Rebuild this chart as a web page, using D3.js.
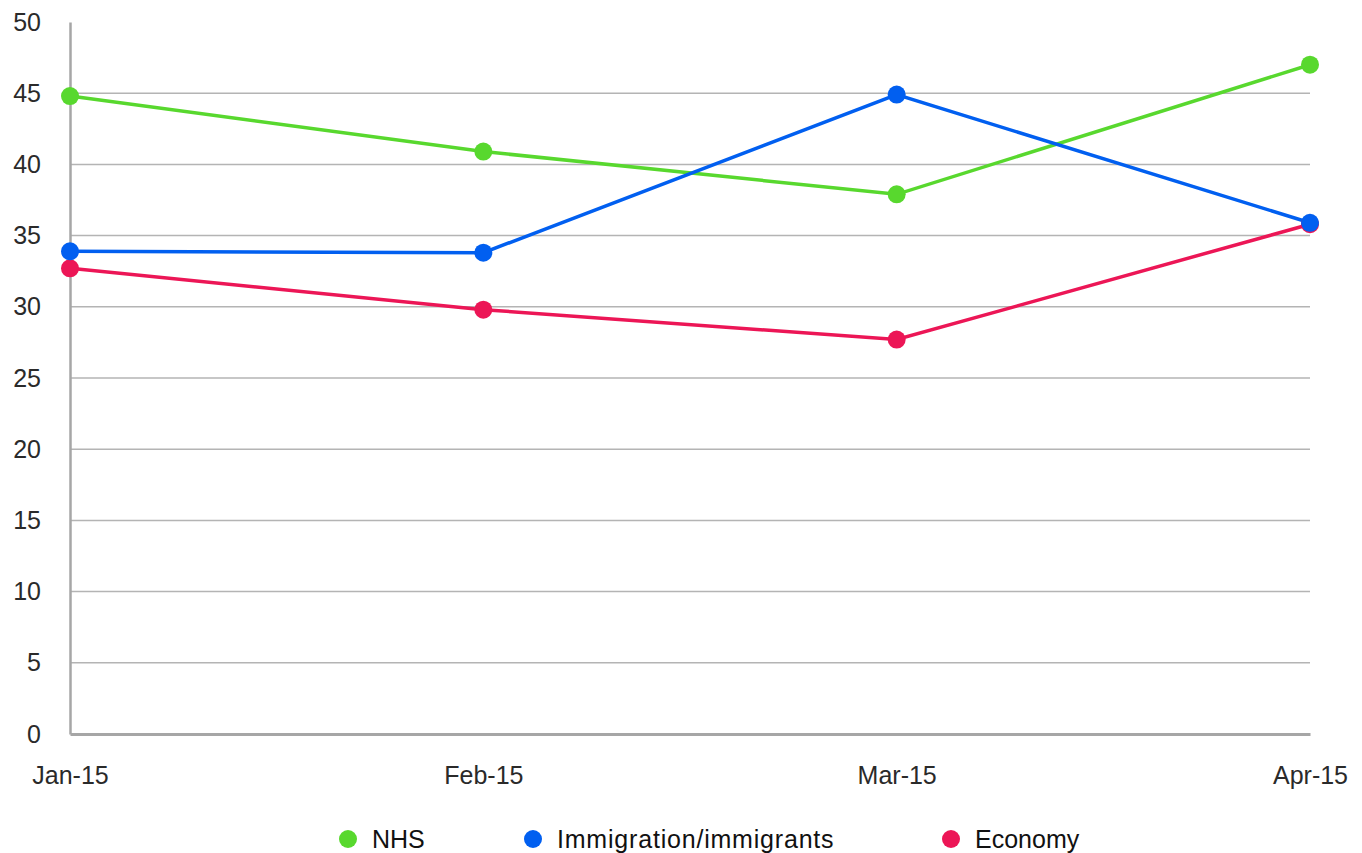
<!DOCTYPE html>
<html>
<head>
<meta charset="utf-8">
<script src="https://cdn.jsdelivr.net/npm/d3@7/dist/d3.min.js"></script>
<style>
  html, body { margin: 0; padding: 0; background: #fff; }
  svg { display: block; }
  text { font-family: "Liberation Sans", Arial, Helvetica, sans-serif; }
</style>
</head>
<body>
<svg id="chart" width="1362" height="853"></svg>
<script>
const categories = ["Jan-15", "Feb-15", "Mar-15", "Apr-15"];
const seriesNames = ["NHS", "Immigration/immigrants", "Economy"];
const nhsValues = [44.8, 40.9, 37.9, 47.0];
const immigrationValues = [33.9, 33.8, 44.9, 35.9];
const economyValues = [32.7, 29.8, 27.7, 35.8];
const seriesColors = ["#58d82e", "#015ff0", "#ec1656"];
const yTicks = [0, 5, 10, 15, 20, 25, 30, 35, 40, 45, 50];

const series = [
  { name: seriesNames[0], values: nhsValues, color: seriesColors[0] },
  { name: seriesNames[1], values: immigrationValues, color: seriesColors[1] },
  { name: seriesNames[2], values: economyValues, color: seriesColors[2] }
];
// drawing order: NHS, Economy, Immigration (immigration on top)
const drawOrder = [series[0], series[2], series[1]];

const svg = d3.select("#chart");
const x = d3.scalePoint().domain(categories).range([70, 1310]).padding(0);
const y = d3.scaleLinear().domain([0, 50]).range([734, 22]);

// gridlines
svg.append("g")
  .selectAll("line")
  .data(yTicks.filter(t => t > 0 && t < 50))
  .join("line")
  .attr("x1", 70).attr("x2", 1310)
  .attr("y1", d => y(d)).attr("y2", d => y(d))
  .attr("stroke", "#b4b4b4").attr("stroke-width", 1.5);

// y axis
const yAxis = svg.append("g")
  .attr("transform", "translate(70,0)")
  .call(d3.axisLeft(y).tickValues(yTicks).tickSize(0).tickPadding(29));
yAxis.select(".domain").attr("stroke", "#a6a6a6").attr("stroke-width", 2.5);
yAxis.selectAll("text")
  .attr("font-size", 25).attr("fill", "#2a2a2a")
  .attr("font-family", "'Liberation Sans', Arial, sans-serif");

// x axis
const xAxis = svg.append("g")
  .attr("transform", "translate(0,734)")
  .call(d3.axisBottom(x).tickSize(0).tickPadding(32));
xAxis.select(".domain").attr("stroke", "#a6a6a6").attr("stroke-width", 3);
xAxis.selectAll("text")
  .attr("font-size", 25).attr("fill", "#2a2a2a")
  .attr("font-family", "'Liberation Sans', Arial, sans-serif");

// lines
const line = d3.line()
  .x((d, i) => x(categories[i]))
  .y(d => y(d));

svg.append("g")
  .selectAll("path")
  .data(drawOrder)
  .join("path")
  .attr("d", s => line(s.values))
  .attr("fill", "none")
  .attr("stroke", s => s.color)
  .attr("stroke-width", 3.5);

// markers
drawOrder.forEach(s => {
  svg.append("g")
    .selectAll("circle")
    .data(s.values)
    .join("circle")
    .attr("cx", (d, i) => x(categories[i]))
    .attr("cy", d => y(d))
    .attr("r", 9)
    .attr("fill", s.color);
});

// legend
const legendX = [348, 533, 951];
const legend = svg.append("g");
series.forEach((s, i) => {
  legend.append("circle")
    .attr("cx", legendX[i]).attr("cy", 839).attr("r", 9)
    .attr("fill", s.color);
  const t = legend.append("text")
    .attr("x", legendX[i] + 24).attr("y", 848)
    .attr("font-size", 25).attr("fill", "#111")
    .text(s.name);
  if (i === 1) t.attr("letter-spacing", 0.8);
});
</script>
</body>
</html>
